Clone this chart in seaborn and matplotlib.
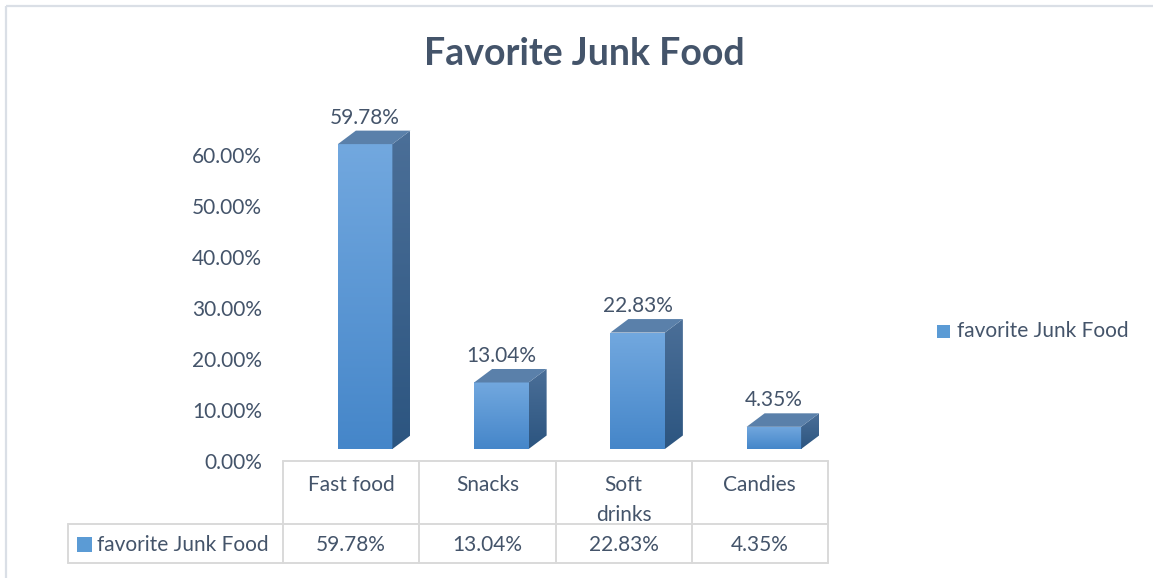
import numpy as np
import pandas as pd
import matplotlib
matplotlib.use("Agg")
import matplotlib.pyplot as plt
import seaborn as sns
from matplotlib import transforms
from matplotlib.colors import LinearSegmentedColormap
from matplotlib.patches import Polygon, Rectangle

# ---- data ----
categories = ["Fast food", "Snacks", "Soft drinks", "Candies"]
category_labels = ["Fast food", "Snacks", "Soft\ndrinks", "Candies"]
values = [59.78, 13.04, 22.83, 4.35]
series_name = "favorite Junk Food"
chart_title = "Favorite Junk Food"
y_ticks = [0, 10, 20, 30, 40, 50, 60]

# ---- style ----
W, H, DPI = 1153, 578, 100
TEXT = "#44546a"
GRID = "#d9d9d9"
BORDER = "#dadfe6"
FRONT = ["#4586c9", "#72a8df"]   # bottom -> top
SIDE = ["#2c5580", "#4b6f98"]
TOP = "#5a80aa"
KEY = "#5b9bd5"
FS = 15

sns.set_theme(style="white")
plt.rcParams["font.family"] = ["Lato", "DejaVu Sans"]

fig = plt.figure(figsize=(W / DPI, H / DPI), dpi=DPI)
fig.patch.set_facecolor("white")

# plot area (pixels)
PL, PR, PB, PT = 283, 828, 461, 100
rect = [PL / W, 1 - PB / H, (PR - PL) / W, (PB - PT) / H]
n = len(categories)
px_per_unit = 5.1
px_per_cat = (PR - PL) / n
y_top = (PB - PT) / px_per_unit

# perspective of the 3-D columns (pixels)
lift_px, shift_px = 12, 14
depth_px = (18, 13.5)

# back wall: value axis and the floor grid for the data table
wall = fig.add_axes(rect)
wall.set_xlim(-0.5, n - 0.5)
wall.set_ylim(0, y_top)
wall.set_yticks(y_ticks)
wall.set_yticklabels([f"{t:.2f}%" for t in y_ticks], color=TEXT, fontsize=FS)
wall.tick_params(axis="y", length=0, pad=15)
wall.set_xticks([])
for s in wall.spines.values():
    s.set_visible(False)
wall.patch.set_alpha(0)

# front faces of the columns
bars = fig.add_axes(rect)
df = pd.DataFrame({"category": categories, "value": values})
sns.barplot(data=df, x="category", y="value", ax=bars, width=0.4,
            color=KEY, saturation=1, errorbar=None)
bars.axis("off")

dx = depth_px[0] / px_per_cat
dy = depth_px[1] / px_per_unit
grad = np.linspace(0, 1, 256).reshape(-1, 1)
front_cmap = LinearSegmentedColormap.from_list("front", FRONT)
side_cmap = LinearSegmentedColormap.from_list("side", SIDE)

for p, v in zip(list(bars.patches), values):
    x0, w, h = p.get_x(), p.get_width(), p.get_height()
    p.set_facecolor("none")
    p.set_edgecolor("none")
    im = bars.imshow(grad, extent=[x0, x0 + w, 0, h], origin="lower",
                     aspect="auto", cmap=front_cmap, zorder=2)
    im.set_clip_path(p)

    side = Polygon([(x0 + w, 0), (x0 + w + dx, dy), (x0 + w + dx, h + dy), (x0 + w, h)],
                   closed=True, facecolor="none", edgecolor="none")
    bars.add_patch(side)
    ims = bars.imshow(grad, extent=[x0 + w, x0 + w + dx, 0, h + dy], origin="lower",
                      aspect="auto", cmap=side_cmap, zorder=2)
    ims.set_clip_path(side)

    top = Polygon([(x0, h), (x0 + dx, h + dy), (x0 + w + dx, h + dy), (x0 + w, h)],
                  closed=True, facecolor=TOP, edgecolor="none", zorder=3)
    bars.add_patch(top)

    bars.text(x0 + w / 2, h + dy + 0.6, f"{v:.2f}%", ha="center", va="bottom",
              color=TEXT, fontsize=FS, zorder=4)

bars.set_xlim(-0.5 - shift_px / px_per_cat, n - 0.5 - shift_px / px_per_cat)
bars.set_ylim(-lift_px / px_per_unit, y_top - lift_px / px_per_unit)

# overlay in pixel units for title, legend and data table
ov = fig.add_axes([0, 0, 1, 1])
ov.set_xlim(0, W)
ov.set_ylim(H, 0)
ov.axis("off")
tbl = transforms.blended_transform_factory(wall.transData, ov.transData)

# chart frame
ov.plot([6, 6], [H, 6], color=BORDER, lw=1.6, solid_capstyle="butt")
ov.plot([6, W], [6, 6], color=BORDER, lw=1.6, solid_capstyle="butt")

ov.text(584, 54, chart_title, ha="center", va="center", color=TEXT,
        fontsize=27, fontweight="bold")

# data table
R1, R2, R3, TL = PB, 524, 563, 68
lw_t = 1.4
ov.plot([-0.5, n - 0.5], [R1, R1], color=GRID, lw=lw_t, transform=tbl)
ov.plot([-0.5, n - 0.5], [R2, R2], color=GRID, lw=lw_t, transform=tbl)
ov.plot([-0.5, n - 0.5], [R3, R3], color=GRID, lw=lw_t, transform=tbl)
ov.plot([TL, PL], [R2, R2], color=GRID, lw=lw_t)
ov.plot([TL, PL], [R3, R3], color=GRID, lw=lw_t)
ov.plot([TL, TL], [R2, R3], color=GRID, lw=lw_t)
for i in range(n + 1):
    ov.plot([i - 0.5, i - 0.5], [R1, R3], color=GRID, lw=lw_t, transform=tbl)
for i, (lab, v) in enumerate(zip(category_labels, values)):
    ov.text(i, 475, lab, ha="center", va="top", color=TEXT, fontsize=FS,
            linespacing=1.65, transform=tbl)
    ov.text(i, 545, f"{v:.2f}%", ha="center", va="center", color=TEXT,
            fontsize=FS, transform=tbl)
ov.add_patch(Rectangle((77, 537), 15, 15, facecolor=KEY, edgecolor="none"))
ov.text(97, 545, series_name, ha="left", va="center", color=TEXT, fontsize=FS)

# legend
ov.add_patch(Rectangle((937, 325), 13, 13, facecolor=KEY, edgecolor="none"))
ov.text(957, 331, series_name, ha="left", va="center", color=TEXT, fontsize=FS)

fig.savefig("out.png", dpi=DPI, facecolor="white")
